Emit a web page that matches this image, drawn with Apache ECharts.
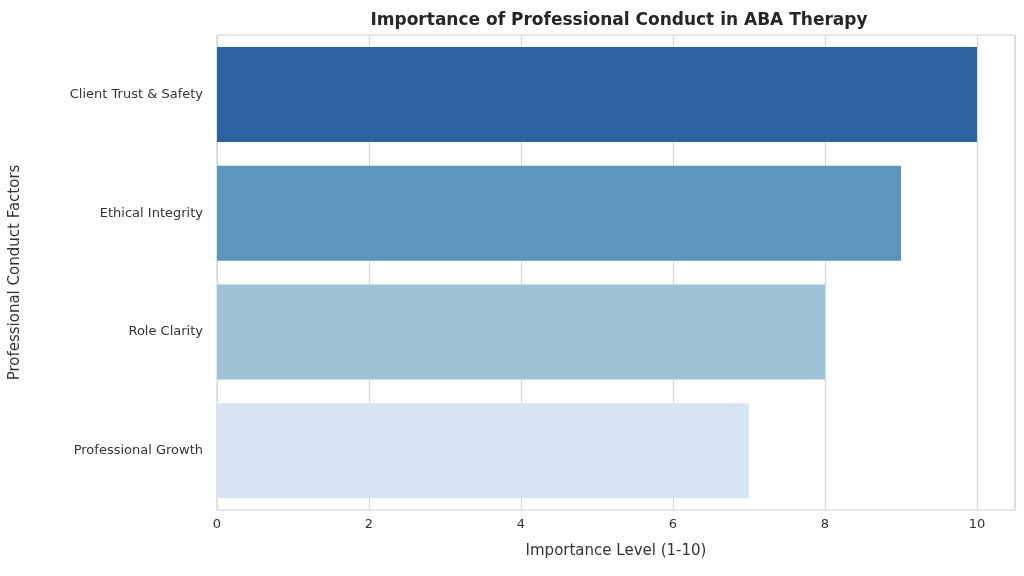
<!DOCTYPE html>
<html><head><meta charset="utf-8">
<script src="https://cdn.jsdelivr.net/npm/echarts@6/dist/echarts.min.js"></script>
<style>html,body{margin:0;padding:0;background:#fff}#c{width:1024px;height:576px}</style>
</head><body><div id="c"></div>
<script>
const categories = ["Client Trust & Safety","Ethical Integrity","Role Clarity","Professional Growth"];
const values = [10, 9, 8, 7];
const colors = ["#2c62a0","#5c95bd","#9ec2d6","#d6e4f3"];
const chart = echarts.init(document.getElementById('c'));
const font = "DejaVu Sans";
chart.setOption({
  animation:false,
  title:{text:"Importance of Professional Conduct in ABA Therapy",left:614,top:7,textAlign:'center',
    textStyle:{fontFamily:font,fontSize:17,fontWeight:'bold',color:'#262626'}},
  grid:{left:215,right:9,top:35,bottom:66,show:true,borderColor:'#cccccc',borderWidth:1},
  xAxis:{type:'value',min:0,max:10.5,interval:2,
    axisLabel:{fontFamily:font,fontSize:13,color:'#333',formatter:v=>v%2===0&&v<=10?String(v):''},
    splitLine:{show:true,lineStyle:{color:'#d9d9d9',width:1.2}},
    axisLine:{show:false},axisTick:{show:false},
    name:"Importance Level (1-10)",nameLocation:'middle',nameGap:34,
    nameTextStyle:{fontFamily:font,fontSize:15,color:'#333'}},
  yAxis:{type:'category',data:categories,inverse:true,
    axisLabel:{fontFamily:font,fontSize:13,color:'#333',margin:14},
    axisLine:{show:false},axisTick:{show:false},splitLine:{show:false},
    name:"Professional Conduct Factors",nameLocation:'middle',nameGap:194,
    nameTextStyle:{fontFamily:font,fontSize:15,color:'#333'}},
  series:[{type:'bar',barCategoryGap:'20%',
    data:values.map((v,i)=>({value:v,itemStyle:{color:colors[i]}}))}]
});
</script></body></html>
